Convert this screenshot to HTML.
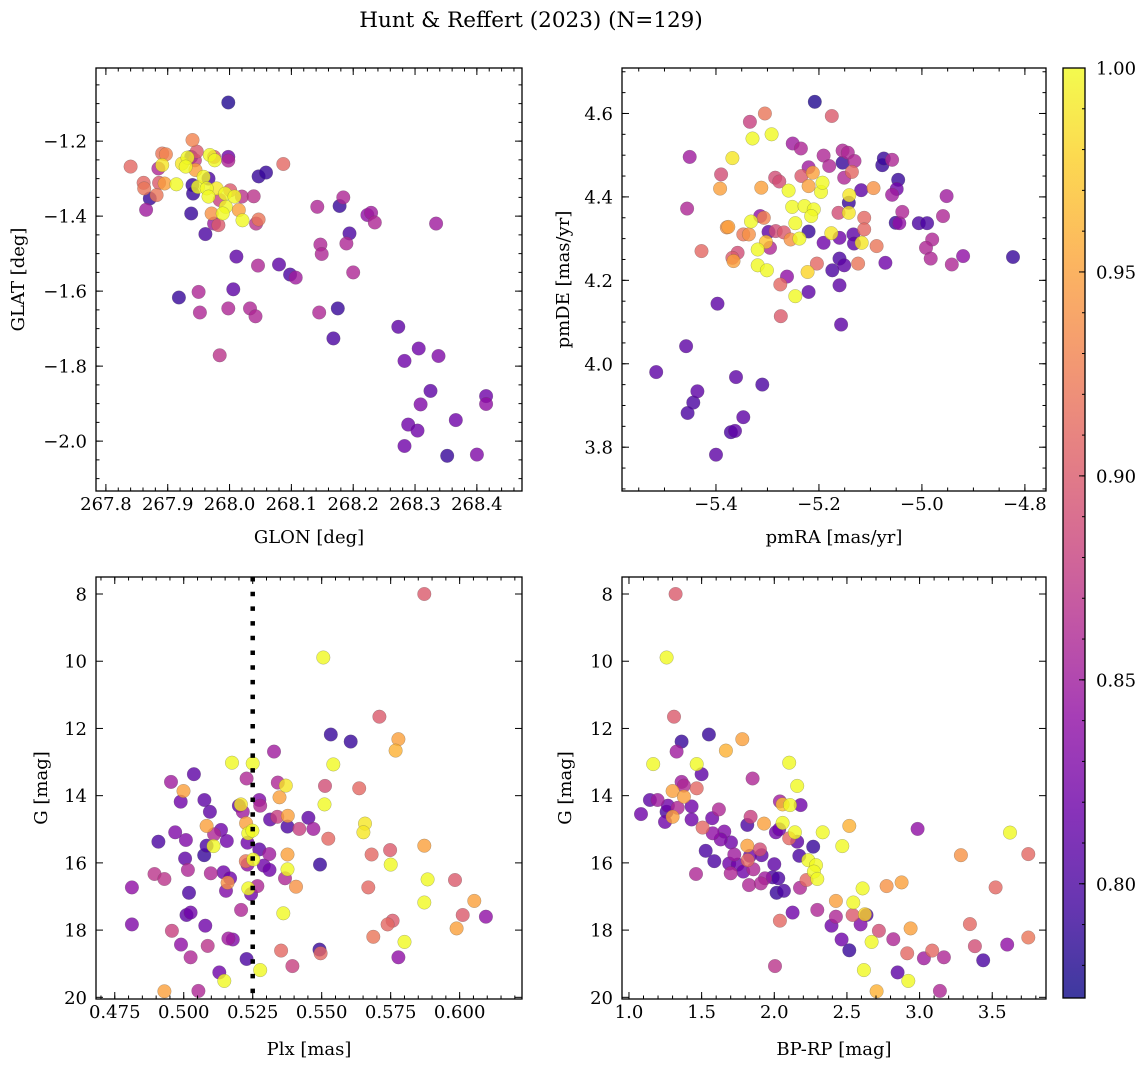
<!DOCTYPE html>
<html><head><meta charset="utf-8">
<style>
html,body{margin:0;padding:0;background:#fff;}
svg{display:block;font-family:"DejaVu Serif","Liberation Serif",serif;}
</style></head>
<body>
<svg id="fig" width="1148" height="1067" viewBox="0 0 1148 1067" xmlns="http://www.w3.org/2000/svg">
<rect x="0" y="0" width="1148" height="1067" fill="#fff"/>
<text x="531" y="27" font-size="21.5" text-anchor="middle">Hunt &amp; Reffert (2023) (N=129)</text>
<defs>
<linearGradient id="plasma" x1="0" y1="1" x2="0" y2="0"></linearGradient>
</defs>
</svg>
<script>
// ---------- Panel 1: GLON / GLAT ----------
const p1Glon=[267.998,267.840,267.861,267.862,267.871,267.865,267.885,267.891,267.897,267.891,267.895,267.886,267.882,267.914,267.940,267.923,267.932,267.929,267.938,267.947,267.944,267.940,267.941,267.938,267.945,267.949,267.958,267.963,267.966,267.961,267.966,267.975,267.968,267.976,267.979,267.971,267.975,267.982,267.984,267.993,267.994,267.989,267.998,267.998,268.001,268.008,268.015,268.021,268.020,268.039,268.043,268.047,268.047,268.059,268.087,268.011,268.046,268.080,268.098,268.107,268.006,267.918,267.950,267.952,267.998,268.033,268.042,267.984,268.142,268.147,268.149,268.145,268.178,268.184,268.194,268.189,268.200,268.175,268.168,268.223,268.229,268.235,268.334,268.273,268.283,268.306,268.338,268.325,268.309,268.289,268.304,268.283,268.352,268.366,268.400,268.415,268.415];
const p1Glat=[-1.097,-1.268,-1.311,-1.326,-1.353,-1.383,-1.273,-1.233,-1.235,-1.264,-1.313,-1.311,-1.344,-1.315,-1.197,-1.260,-1.244,-1.268,-1.242,-1.228,-1.251,-1.317,-1.340,-1.393,-1.277,-1.322,-1.295,-1.326,-1.348,-1.448,-1.300,-1.242,-1.237,-1.251,-1.326,-1.393,-1.420,-1.424,-1.357,-1.340,-1.375,-1.393,-1.242,-1.252,-1.331,-1.348,-1.384,-1.411,-1.348,-1.347,-1.420,-1.409,-1.294,-1.284,-1.261,-1.508,-1.532,-1.529,-1.556,-1.564,-1.595,-1.617,-1.602,-1.657,-1.646,-1.646,-1.667,-1.771,-1.375,-1.476,-1.501,-1.657,-1.373,-1.350,-1.446,-1.473,-1.550,-1.646,-1.726,-1.397,-1.391,-1.417,-1.420,-1.695,-1.786,-1.753,-1.773,-1.866,-1.902,-1.956,-1.972,-2.013,-2.039,-1.944,-2.036,-1.880,-1.901];
const p1Prob=[0.78,0.91,0.91,0.92,0.79,0.85,0.86,0.92,0.93,0.99,0.95,0.90,0.92,1.0,0.93,0.99,1.0,1.0,0.80,0.90,0.88,0.79,0.79,0.79,0.95,1.0,1.0,1.0,1.0,0.80,0.80,0.90,1.0,1.0,0.99,0.94,0.85,0.90,0.88,1.0,1.0,1.0,0.82,0.86,0.90,1.0,0.95,1.0,0.87,0.87,0.87,0.92,0.79,0.79,0.91,0.81,0.86,0.81,0.80,0.85,0.81,0.79,0.86,0.86,0.86,0.86,0.86,0.87,0.86,0.86,0.86,0.86,0.79,0.86,0.80,0.86,0.86,0.79,0.80,0.84,0.85,0.86,0.85,0.81,0.82,0.82,0.83,0.81,0.83,0.82,0.82,0.82,0.79,0.82,0.83,0.82,0.84];

// ---------- Panel 2: pmRA / pmDE ----------
const p2Pmra=[-5.208,-5.305,-5.175,-5.334,-5.292,-5.329,-5.451,-5.368,-5.390,-5.392,-5.456,-5.428,-5.251,-5.235,-5.220,-5.191,-5.180,-5.154,-5.144,-5.154,-5.131,-5.136,-5.151,-5.285,-5.277,-5.234,-5.212,-5.220,-5.312,-5.259,-5.196,-5.193,-5.252,-5.228,-5.210,-5.215,-5.246,-5.332,-5.376,-5.379,-5.347,-5.336,-5.314,-5.307,-5.298,-5.295,-5.303,-5.284,-5.268,-5.319,-5.368,-5.358,-5.366,-5.319,-5.301,-5.255,-5.238,-5.220,-5.176,-5.191,-5.160,-5.133,-5.132,-5.117,-5.112,-5.112,-5.088,-5.142,-5.141,-5.142,-5.162,-5.118,-5.094,-5.077,-5.074,-5.058,-5.046,-5.049,-5.058,-5.051,-5.044,-5.038,-5.006,-4.990,-4.980,-4.992,-4.983,-4.959,-4.952,-4.942,-4.920,-4.823,-5.071,-5.124,-5.204,-5.160,-5.151,-5.174,-5.222,-5.262,-5.275,-5.220,-5.246,-5.160,-5.274,-5.157,-5.397,-5.458,-5.516,-5.361,-5.310,-5.436,-5.444,-5.455,-5.347,-5.363,-5.371,-5.400];
const p2Pmde=[4.628,4.600,4.594,4.580,4.550,4.540,4.496,4.493,4.454,4.420,4.372,4.270,4.528,4.516,4.471,4.499,4.474,4.511,4.506,4.482,4.486,4.460,4.446,4.446,4.437,4.450,4.458,4.426,4.422,4.415,4.412,4.434,4.376,4.378,4.370,4.354,4.337,4.341,4.328,4.327,4.310,4.310,4.354,4.350,4.316,4.278,4.292,4.318,4.315,4.274,4.254,4.266,4.246,4.236,4.224,4.298,4.300,4.317,4.313,4.290,4.302,4.310,4.288,4.290,4.350,4.322,4.282,4.362,4.404,4.386,4.362,4.416,4.421,4.476,4.492,4.489,4.441,4.419,4.405,4.338,4.337,4.364,4.337,4.337,4.298,4.278,4.252,4.354,4.402,4.238,4.258,4.256,4.242,4.240,4.240,4.252,4.236,4.224,4.220,4.209,4.190,4.172,4.162,4.188,4.114,4.094,4.144,4.042,3.980,3.968,3.950,3.934,3.907,3.882,3.872,3.839,3.836,3.782];
const p2Prob=[0.78,0.92,0.90,0.88,1.0,1.0,0.85,0.99,0.89,0.95,0.86,0.91,0.85,0.86,0.85,0.86,0.86,0.86,0.86,0.79,0.86,0.91,0.86,0.89,0.89,0.90,0.95,0.95,0.95,1.0,1.0,1.0,1.0,1.0,1.0,1.0,1.0,1.0,0.95,0.94,0.92,0.94,0.84,0.93,0.81,0.86,0.97,0.89,0.90,1.0,0.90,0.89,0.95,1.0,1.0,0.94,1.0,0.79,0.99,0.82,0.82,0.81,0.81,0.99,0.91,0.91,0.92,0.99,0.99,0.79,0.89,0.81,0.94,0.79,0.79,0.86,0.79,0.82,0.85,0.79,0.84,0.86,0.80,0.80,0.86,0.86,0.86,0.86,0.85,0.86,0.84,0.79,0.82,0.92,0.91,0.80,0.81,0.80,0.98,0.84,0.91,0.81,1.0,0.81,0.90,0.81,0.81,0.81,0.81,0.81,0.80,0.81,0.80,0.80,0.81,0.81,0.80,0.81];

// ---------- Panel 3: Plx / G ----------
const p3Plx=[0.5872,0.5506,0.5709,0.5533,0.5605,0.5778,0.5768,0.5327,0.5175,0.5250,0.5542,0.5037,0.4954,0.5228,0.5341,0.5370,0.5512,0.5636,0.4999,0.4989,0.5075,0.5095,0.5347,0.5510,0.5200,0.5207,0.5214,0.5274,0.5277,0.5313,0.5339,0.5377,0.5376,0.5452,0.5470,0.5419,0.5083,0.5135,0.5110,0.4969,0.5008,0.4908,0.5226,0.5234,0.5249,0.5231,0.5156,0.5083,0.5108,0.5074,0.5005,0.5274,0.5310,0.5376,0.5225,0.5252,0.5231,0.5290,0.5311,0.5376,0.5367,0.5407,0.5494,0.5681,0.5748,0.5750,0.5657,0.5651,0.5524,0.5872,0.5884,0.5983,0.5669,0.5015,0.4894,0.4930,0.4812,0.5098,0.5144,0.5168,0.5159,0.5153,0.5019,0.5234,0.5244,0.5267,0.5872,0.6053,0.6011,0.6095,0.5361,0.5208,0.5025,0.5010,0.4812,0.4957,0.5078,0.5739,0.5757,0.5687,0.5989,0.5800,0.4990,0.5087,0.5162,0.5178,0.5492,0.5496,0.5353,0.5025,0.5228,0.5778,0.5394,0.5129,0.5147,0.5277,0.4930,0.5053];
const p3G=[8.0,9.89,11.65,12.18,12.39,12.32,12.66,12.69,13.02,13.04,13.07,13.36,13.59,13.49,13.61,13.70,13.71,13.78,13.86,14.18,14.13,14.48,14.05,14.26,14.30,14.26,14.48,14.13,14.30,14.71,14.63,14.60,14.92,14.66,14.99,14.99,14.90,15.02,15.15,15.09,15.32,15.37,14.82,15.12,15.04,15.40,15.35,15.49,15.50,15.77,15.87,15.60,15.74,15.75,15.95,15.90,16.05,16.08,16.21,16.19,16.46,16.71,16.05,15.75,15.62,16.05,14.83,15.09,15.28,15.49,16.49,16.51,16.73,16.21,16.33,16.48,16.73,16.31,16.28,16.46,16.59,16.83,16.89,16.76,16.93,16.69,17.18,17.13,17.55,17.60,17.50,17.40,17.48,17.55,17.83,18.02,17.87,17.83,17.72,18.20,17.95,18.35,18.43,18.47,18.25,18.28,18.58,18.69,18.61,18.81,18.86,18.81,19.07,19.26,19.51,19.19,19.82,19.81];
const p3Prob=[0.90,1.0,0.90,0.79,0.79,0.95,0.96,0.85,1.0,1.0,1.0,0.81,0.85,0.86,0.86,0.99,0.89,0.91,0.95,0.82,0.81,0.81,0.95,1.0,0.81,0.99,0.85,0.83,0.86,0.81,0.88,0.95,0.80,0.81,0.85,0.88,0.95,0.82,0.86,0.83,0.83,0.80,0.95,1.0,1.0,0.82,0.82,0.80,1.0,0.79,0.81,0.81,0.85,0.95,0.92,1.0,0.84,0.82,0.82,1.0,0.86,0.94,0.79,0.91,0.90,1.0,0.99,0.99,0.91,0.95,1.0,0.90,0.91,0.86,0.87,0.87,0.84,0.86,0.82,0.82,0.94,0.83,0.80,1.0,0.82,0.86,1.0,0.95,0.90,0.84,1.0,0.86,0.82,0.81,0.83,0.88,0.82,0.91,0.90,0.92,0.95,1.0,0.84,0.87,0.85,0.83,0.79,0.91,0.91,0.86,0.80,0.84,0.88,0.82,1.0,1.0,0.95,0.86];
const p3PlxLine=0.525;

// ---------- Panel 4: BP-RP / G ----------
const p4Color=[1.321,1.259,1.310,1.550,1.362,1.780,1.667,1.328,1.167,1.466,2.103,1.500,1.362,1.851,1.378,2.158,1.466,1.300,1.144,1.197,1.083,1.268,1.259,1.335,1.248,1.300,1.431,1.431,1.378,1.619,1.573,1.507,1.576,1.656,1.631,1.702,1.528,1.587,1.461,1.690,1.725,1.748,1.700,1.787,1.814,1.837,1.814,1.817,1.833,1.901,1.913,1.856,1.826,1.908,1.936,1.929,2.011,2.000,1.989,2.028,2.016,2.066,2.039,2.057,2.108,2.181,2.057,2.034,2.103,2.142,2.158,2.172,2.268,2.333,2.234,2.287,2.273,2.296,2.222,2.177,2.126,2.039,2.005,2.296,2.394,2.424,2.424,2.468,2.516,2.463,2.516,2.544,2.539,2.608,2.635,2.624,2.594,2.670,2.720,2.617,2.704,2.773,2.876,2.819,2.938,2.915,2.849,2.922,2.986,3.030,3.087,3.167,3.140,3.284,3.346,3.381,3.438,3.523,3.603,3.622,3.748,3.748];
const p4G=[8.0,9.89,11.65,12.18,12.39,12.32,12.66,12.69,13.06,13.06,13.02,13.36,13.59,13.49,13.70,13.71,13.78,13.86,14.13,14.13,14.55,14.30,14.48,14.36,14.78,14.63,14.32,14.71,14.03,14.41,14.67,14.95,15.12,15.07,15.30,15.39,15.64,15.95,16.33,16.02,15.75,16.05,16.31,16.26,14.87,14.63,15.49,15.92,15.79,15.60,15.77,16.19,16.66,16.61,16.46,14.83,15.09,16.04,16.43,16.46,16.89,16.83,14.17,14.26,14.28,14.28,14.81,15.00,15.27,15.09,15.37,15.79,15.52,15.09,15.92,16.07,16.26,16.48,16.51,16.74,17.48,17.72,19.07,17.40,17.87,17.60,17.13,15.50,14.90,18.28,18.60,17.18,17.55,16.76,17.55,17.53,17.83,18.35,18.02,19.19,19.82,16.69,16.58,18.27,17.95,18.69,19.26,19.51,14.99,18.84,18.61,18.81,19.81,15.77,17.82,18.48,18.90,16.73,18.43,15.10,15.74,18.22];
const p4Prob=[0.90,1.0,0.90,0.79,0.79,0.95,0.96,0.85,1.0,1.0,1.0,0.81,0.85,0.86,0.86,1.0,0.91,0.95,0.81,0.85,0.82,0.82,0.80,0.86,0.82,0.95,0.82,0.82,0.95,0.86,0.82,0.91,0.84,0.83,0.83,0.82,0.80,0.80,0.86,0.82,0.85,0.82,0.86,0.82,0.80,0.88,0.95,0.91,0.82,0.89,0.81,0.86,0.86,0.86,0.85,0.95,0.82,0.81,0.80,0.80,0.79,0.80,0.85,0.97,1.0,0.82,1.0,0.82,0.91,1.0,0.81,0.80,0.79,1.0,1.0,1.0,1.0,1.0,0.91,0.86,0.82,0.91,0.87,0.86,0.82,0.86,0.95,1.0,0.96,0.82,0.79,1.0,0.90,1.0,0.80,0.98,0.83,1.0,0.89,1.0,0.96,0.94,0.95,0.86,0.95,0.91,0.81,1.0,0.84,0.85,0.91,0.86,0.86,0.94,0.91,0.89,0.80,0.91,0.84,1.0,0.91,0.92];

// ---------- Colorbar ----------
const cbTicks=[0.80,0.85,0.90,0.95,1.00];
const cbMin=0.772, cbMax=1.0;

const FS=18;
const NS="http://www.w3.org/2000/svg";
const svg=document.getElementById('fig');
function mk(tag,attrs,parent){const e=document.createElementNS(NS,tag);for(const k in attrs)e.setAttribute(k,attrs[k]);(parent||svg).appendChild(e);return e;}

const plasmaStops=[[13,8,135],[65,4,157],[106,0,168],[143,13,164],[177,42,144],[204,71,120],[225,100,98],[242,132,75],[252,166,54],[252,206,37],[240,249,33]];
function plasma(t){t=Math.max(0,Math.min(1,t));const s=t*10;const i=Math.min(9,Math.floor(s));const f=s-i;const a=plasmaStops[i],b=plasmaStops[i+1];return 'rgb('+[0,1,2].map(k=>Math.round(a[k]+(b[k]-a[k])*f)).join(',')+')';}
function cmap(p){return plasma((p-cbMin)/(cbMax-cbMin));}
function fmtMinus(s){return s.replace('-','\u2212');}

function makeAxes(cfg){
  const g=mk('g',{});
  
  
  const sx=v=>cfg.L+(v-cfg.xmin)/(cfg.xmax-cfg.xmin)*(cfg.R-cfg.L);
  const sy=v=>cfg.B-(v-cfg.ymin)/(cfg.ymax-cfg.ymin)*(cfg.B-cfg.T);
  const clipId='clip-'+cfg.name;
  const cp=mk('clipPath',{id:clipId},g);
  mk('rect',{x:cfg.L,y:cfg.T,width:cfg.R-cfg.L,height:cfg.B-cfg.T},cp);
  const pts=mk('g',{'clip-path':'url(#'+clipId+')'},g);
  
  
  const idx=cfg.xs.map((_,i)=>i).sort((a,b)=>cfg.ps[a]-cfg.ps[b]);
  idx.forEach(i=>{
    const c=mk('circle',{cx:sx(cfg.xs[i]).toFixed(1),cy:sy(cfg.ys[i]).toFixed(1),r:6.8,fill:cmap(cfg.ps[i]),'fill-opacity':0.8,stroke:'#555','stroke-opacity':0.45,'stroke-width':0.5},pts);
    
    
  });
  if(cfg.vline!==undefined){
    const l=mk('line',{x1:sx(cfg.vline),x2:sx(cfg.vline),y1:cfg.T,y2:cfg.B,stroke:'#000','stroke-width':4.5,'stroke-dasharray':'4.5 10.2'},pts);
    
    
  }
  const tk=mk('g',{stroke:'#000','stroke-width':1},g);
  const eps=1e-9;
  for(let v=Math.ceil(cfg.xmin/cfg.xminor-eps)*cfg.xminor; v<=cfg.xmax+eps; v+=cfg.xminor){
    const x=sx(v);
    mk('line',{x1:x,x2:x,y1:cfg.B,y2:cfg.B-3.5},tk);
    mk('line',{x1:x,x2:x,y1:cfg.T,y2:cfg.T+3.5},tk);
  }
  for(let v=Math.ceil(cfg.ymin/cfg.yminor-eps)*cfg.yminor; v<=cfg.ymax+eps; v+=cfg.yminor){
    const y=sy(v);
    mk('line',{x1:cfg.L,x2:cfg.L+3.5,y1:y,y2:y},tk);
    mk('line',{x1:cfg.R,x2:cfg.R-3.5,y1:y,y2:y},tk);
  }
  cfg.xticks.forEach((v,i)=>{
    const x=sx(v);
    mk('line',{x1:x,x2:x,y1:cfg.B,y2:cfg.B-7},tk);
    mk('line',{x1:x,x2:x,y1:cfg.T,y2:cfg.T+7},tk);
    const t=mk('text',{x:x,y:cfg.B+19,'font-size':FS,'text-anchor':'middle'},g);
    t.textContent=fmtMinus(cfg.xlabels[i]);
    
    
  });
  cfg.yticks.forEach((v,i)=>{
    const y=sy(v);
    mk('line',{x1:cfg.L,x2:cfg.L+7,y1:y,y2:y},tk);
    mk('line',{x1:cfg.R,x2:cfg.R-7,y1:y,y2:y},tk);
    const t=mk('text',{x:cfg.L-9,y:y+6.5,'font-size':FS,'text-anchor':'end'},g);
    t.textContent=fmtMinus(cfg.ylabels[i]);
    
    
  });
  const fr=mk('rect',{x:cfg.L,y:cfg.T,width:cfg.R-cfg.L,height:cfg.B-cfg.T,fill:'none',stroke:'#000','stroke-width':1.3},g);
  
  
  const xl=mk('text',{x:(cfg.L+cfg.R)/2,y:cfg.B+cfg.xty,'font-size':FS,'text-anchor':'middle'},g);
  xl.textContent=cfg.xtitle;
  
  
  const yx=cfg.ytx, yy=(cfg.T+cfg.B)/2;
  const yl=mk('text',{x:yx,y:yy,'font-size':FS,'text-anchor':'middle',transform:'rotate(-90 '+yx+' '+yy+')'},g);
  yl.textContent=cfg.ytitle;
  
  
}

makeAxes({name:'glon-glat-panel',L:96,R:522,T:68,B:491,xmin:267.784,xmax:268.473,ymin:-2.133,ymax:-1.005,
  xs:p1Glon,ys:p1Glat,ps:p1Prob,xminor:0.02,yminor:0.05,
  xticks:[267.8,267.9,268.0,268.1,268.2,268.3,268.4],xlabels:['267.8','267.9','268.0','268.1','268.2','268.3','268.4'],
  yticks:[-1.2,-1.4,-1.6,-1.8,-2.0],ylabels:['-1.2','-1.4','-1.6','-1.8','-2.0'],
  xtitle:'GLON [deg]',ytitle:'GLAT [deg]',ytx:24,xty:52});
makeAxes({name:'proper-motion-panel',L:622,R:1046,T:68,B:491,xmin:-5.5825,xmax:-4.759,ymin:3.695,ymax:4.709,
  xs:p2Pmra,ys:p2Pmde,ps:p2Prob,xminor:0.05,yminor:0.05,
  xticks:[-5.4,-5.2,-5.0,-4.8],xlabels:['-5.4','-5.2','-5.0','-4.8'],
  yticks:[3.8,4.0,4.2,4.4,4.6],ylabels:['3.8','4.0','4.2','4.4','4.6'],
  xtitle:'pmRA [mas/yr]',ytitle:'pmDE [mas/yr]',ytx:569,xty:52});
makeAxes({name:'parallax-magnitude-panel',L:96,R:522,T:577,B:999,xmin:0.4682,xmax:0.6226,ymin:20.05,ymax:7.494,
  xs:p3Plx,ys:p3G,ps:p3Prob,xminor:0.005,yminor:0.5,vline:p3PlxLine,
  xticks:[0.475,0.5,0.525,0.55,0.575,0.6],xlabels:['0.475','0.500','0.525','0.550','0.575','0.600'],
  yticks:[8,10,12,14,16,18,20],ylabels:['8','10','12','14','16','18','20'],
  xtitle:'Plx [mas]',ytitle:'G [mag]',ytx:47,xty:56});
makeAxes({name:'color-magnitude-panel',L:622,R:1046,T:577,B:999,xmin:0.952,xmax:3.87,ymin:20.05,ymax:7.494,
  xs:p4Color,ys:p4G,ps:p4Prob,xminor:0.1,yminor:0.5,
  xticks:[1.0,1.5,2.0,2.5,3.0,3.5],xlabels:['1.0','1.5','2.0','2.5','3.0','3.5'],
  yticks:[8,10,12,14,16,18,20],ylabels:['8','10','12','14','16','18','20'],
  xtitle:'BP-RP [mag]',ytitle:'G [mag]',ytx:571,xty:56});

// colorbar
(function(){
  const L=1063,R=1085,T=68,B=998;
  const grad=document.getElementById('plasma');
  for(let i=0;i<=20;i++){mk('stop',{offset:(i/20),'stop-color':plasma(i/20)},grad);}
  const g=mk('g',{});
  
  
  mk('rect',{x:L,y:T,width:R-L,height:B-T,fill:'url(#plasma)','fill-opacity':0.8},g);
  const sy=v=>B-(v-cbMin)/(cbMax-cbMin)*(B-T);
  for(let v=0.78;v<=1.0001;v+=0.01){const y=sy(v);mk('line',{x1:R,x2:R-3,y1:y,y2:y,stroke:'#000','stroke-width':1},g);}
  cbTicks.forEach(v=>{
    const y=sy(v);
    mk('line',{x1:R,x2:R-6,y1:y,y2:y,stroke:'#000','stroke-width':1},g);
    const t=mk('text',{x:R+11,y:y+6.5,'font-size':FS},g);
    t.textContent=v.toFixed(2);
    
    
  });
  mk('rect',{x:L,y:T,width:R-L,height:B-T,fill:'none',stroke:'#000','stroke-width':1.3},g);
})();
</script>
</body></html>
